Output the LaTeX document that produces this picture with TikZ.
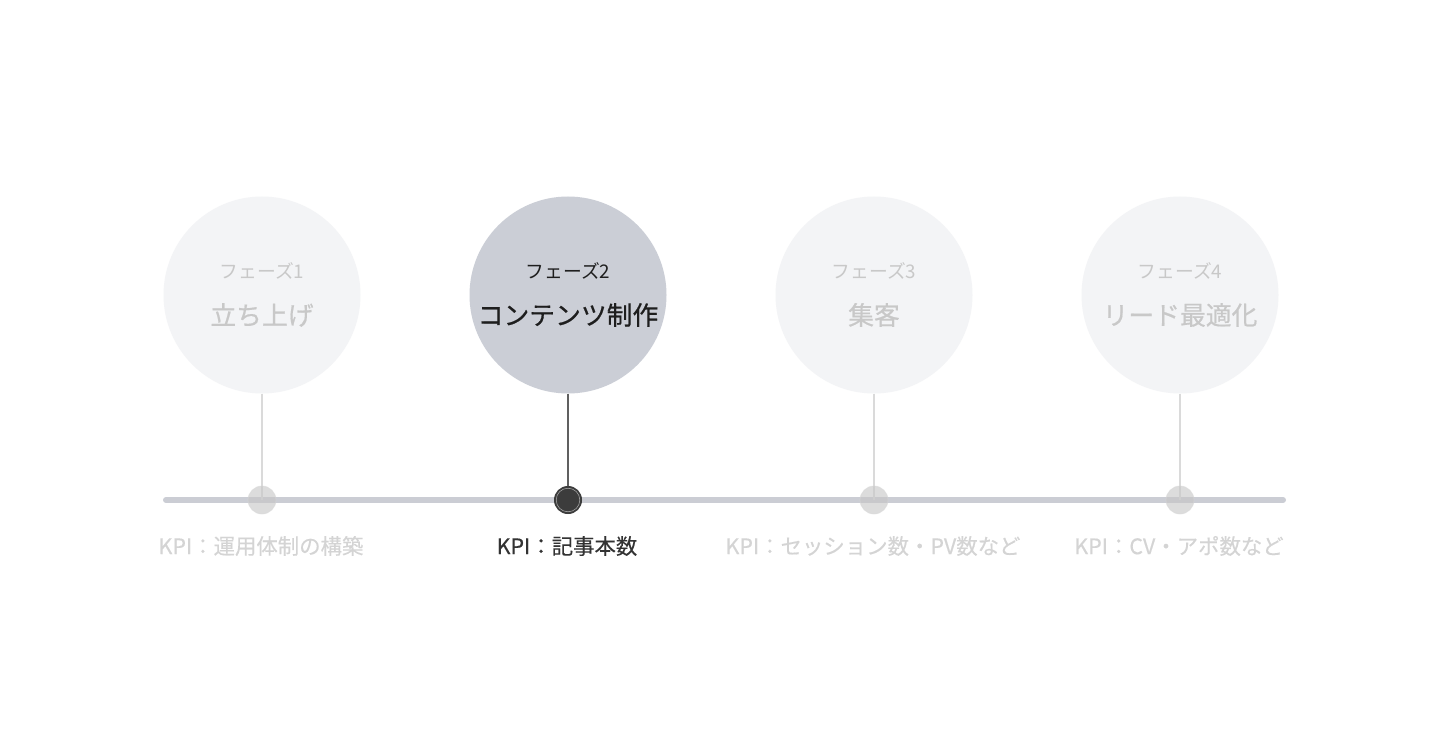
\documentclass[tikz,border=0pt]{standalone}
\usepackage{fontspec}
\setmainfont{Noto Sans CJK JP}
\newfontfamily\cjk{Noto Sans CJK JP}
\newfontfamily\cjkmed[FakeBold=0.6]{Noto Sans CJK JP}
\newfontfamily\cjkkpi[FakeBold=0.3]{Noto Sans CJK JP}
\definecolor{offfill}{HTML}{F3F4F6}
\definecolor{onfill}{HTML}{CBCED6}
\definecolor{offtxt}{HTML}{C8C8C8}
\definecolor{offkpi}{HTML}{D4D4D4}
\definecolor{ontxt}{HTML}{1E1E1E}
\definecolor{onkpi}{HTML}{333333}
\definecolor{track}{HTML}{CBCDD4}
\definecolor{offstem}{HTML}{DADADA}
\definecolor{onstem}{HTML}{606060}
\definecolor{ondot}{HTML}{3C3C3C}
\begin{document}
\begin{tikzpicture}[x=1pt,y=-1pt,
  phase/.style={circle,minimum size=197pt,inner sep=0pt},
  offphase/.style={phase,fill=offfill},
  onphase/.style={phase,fill=onfill},
  small/.style={font=\cjk\fontsize{18.8}{22}\selectfont,inner sep=0pt},
  title/.style={font=\cjkmed\fontsize{25.8}{30}\selectfont,inner sep=0pt},
  kpi/.style={font=\cjkkpi\fontsize{21.4}{25}\selectfont,inner sep=0pt},
  offdot/.style={circle,minimum size=28pt,inner sep=0pt,fill=gray!45,fill opacity=0.6,draw=gray!30,draw opacity=0.5,line width=0.8pt},
  ondotst/.style={circle,minimum size=27pt,inner sep=0pt,fill=ondot,draw=ondot,line width=1pt},
  offstemst/.style={draw=offstem,line width=1.3pt},
  onstemst/.style={draw=onstem,line width=1.5pt}]
\useasboundingbox (0,0) rectangle (1440,754);
\fill[white] (0,0) rectangle (1440,754);
% timeline
\coordinate (tl) at (166,500);
\coordinate (tr) at (1283,500);
\draw[track,line width=6pt,line cap=round] (tl) -- (tr);
% circles
\node[offphase] (c1) at (262,295) {};
\node[onphase] (c2) at (568,295) {};
\node[offphase] (c3) at (874,295) {};
\node[offphase] (c4) at (1180,295) {};
% stems and dots
\coordinate (d1) at (262,500);
\coordinate (d2) at (568,500);
\coordinate (d3) at (874,500);
\coordinate (d4) at (1180,500);
\draw[offstemst] (c1.south) -- (d1);
\draw[onstemst] (c2.south) -- (d2);
\draw[offstemst] (c3.south) -- (d3);
\draw[offstemst] (c4.south) -- (d4);
\node[offdot] (p1) at (d1) {};
\node[ondotst] (p2) at (d2) {};
\node[offdot] (p3) at (d3) {};
\node[offdot] (p4) at (d4) {};
\draw[gray!60,line width=0.5pt] (p2.center) circle (11.8pt);
% texts
\node[small,text=offtxt] (s1) at (262,271) {フェーズ1};
\node[small,text=ontxt] (s2) at (568,271) {フェーズ2};
\node[small,text=offtxt] (s3) at (874,271) {フェーズ3};
\node[small,text=offtxt] (s4) at (1180,271) {フェーズ4};
\node[title,text=offtxt] (t1) at (262,315) {立ち上げ};
\node[title,text=ontxt] (t2) at (568,315) {コンテンツ制作};
\node[title,text=offtxt] (t3) at (874,315) {集客};
\node[title,text=offtxt] (t4) at (1180,315) {リード最適化};
\node[kpi,text=offkpi] (k1) at (261,546) {KPI：運用体制の構築};
\node[kpi,text=onkpi] (k2) at (567,546) {KPI：記事本数};
\node[kpi,text=offkpi] (k3) at (873,546) {KPI：セッション数・PV数など};
\node[kpi,text=offkpi] (k4) at (1179,546) {KPI：CV・アポ数など};
\end{tikzpicture}
\end{document}
